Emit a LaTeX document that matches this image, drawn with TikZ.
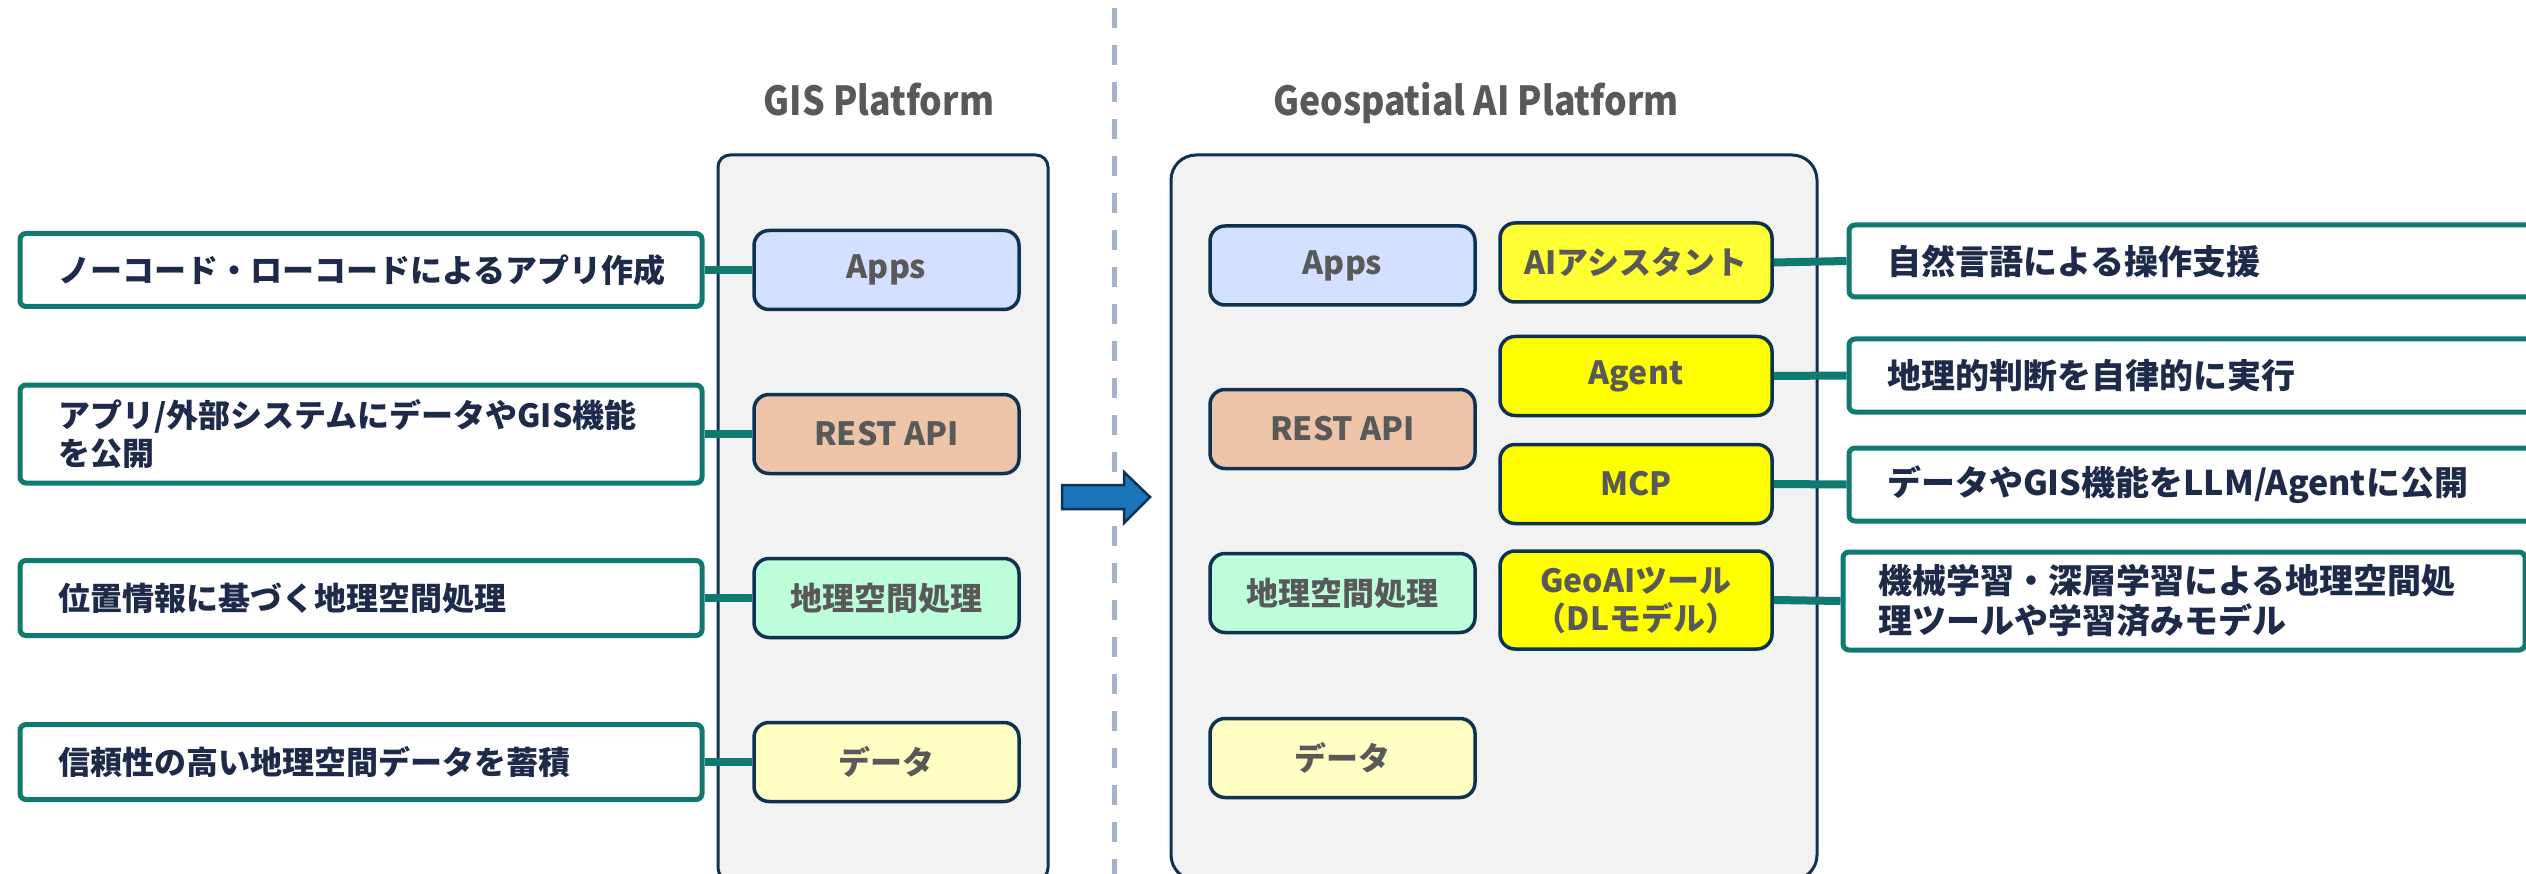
\documentclass[tikz,border=0pt]{standalone}
\usepackage{fontspec}
\usepackage{tikz}
\newfontfamily\jpfont{Noto Sans CJK JP}
\newfontfamily\titlefont{Noto Sans CJK JP}[FakeStretch=0.89]

\definecolor{tealline}{RGB}{16,122,112}
\definecolor{navyline}{RGB}{14,51,82}
\definecolor{panelgray}{RGB}{242,242,242}
\definecolor{appsblue}{RGB}{211,224,255}
\definecolor{restpeach}{RGB}{238,196,168}
\definecolor{procmint}{RGB}{188,255,218}
\definecolor{datacream}{RGB}{255,255,195}
\definecolor{aiyellow}{RGB}{255,255,0}
\definecolor{assistyellow}{RGB}{255,255,51}
\definecolor{labelgray}{RGB}{89,89,89}
\definecolor{descnavy}{RGB}{30,42,74}
\definecolor{dashgray}{RGB}{164,179,200}
\definecolor{shiftblue}{RGB}{26,117,187}

\tikzset{
  panel/.style={draw=navyline, line width=3pt, fill=panelgray, inner sep=0pt},
  layer/.style={draw=navyline, line width=3.5pt, rounded corners=15pt,
    minimum width=265pt, minimum height=79pt, inner sep=0pt, align=center,
    font=\jpfont\bfseries\fontsize{32}{38}\selectfont, text=labelgray},
  tool/.style={layer, minimum width=272pt},
  desc/.style={draw=tealline, line width=5pt, fill=white, rounded corners=6pt,
    inner xsep=38pt, inner ysep=0pt, align=left,
    font=\jpfont\bfseries\fontsize{34}{40}\selectfont, text=descnavy},
  smalldesc/.style={desc, font=\jpfont\bfseries\fontsize{32}{38}\selectfont},
  link/.style={draw=tealline, line width=8pt},
  ptitle/.style={font=\titlefont\bfseries\fontsize{40}{46}\selectfont, text=labelgray},
}

\begin{document}
\begin{tikzpicture}[x=1pt, y=-1pt]
    \useasboundingbox (0,0) rectangle (2526,874);
    \clip (0,0) rectangle (2526,874);

    \draw[dashgray, line width=5pt, dash pattern=on 20pt off 17pt] (1114,8) -- (1114,880);
    \draw[navyline, line width=2.5pt, fill=shiftblue]
      (1062,485) -- (1124,485) -- (1124,472) -- (1150,497) -- (1124,523) -- (1124,509) -- (1062,509) -- cycle;

    % GIS Platform
    \node[ptitle] (gistitle) at (879,100) {GIS Platform};
    \node[panel, rounded corners=12pt, minimum width=330pt, minimum height=725pt] (gis) at (883,517.5) {};
    \node[layer, fill=appsblue] (gapps) at (886.5,270) {Apps};
    \node[layer, fill=restpeach] (grest) at (886.5,434) {REST API};
    \node[layer, fill=procmint] (gproc) at (886.5,598) {地理空間処理};
    \node[layer, fill=datacream] (gdata) at (886.5,762) {データ};

    \node[smalldesc, text width=606pt, minimum height=73pt] (gdesc1) at (361,270) {ノーコード・ローコードによるアプリ作成};
    \node[smalldesc, text width=606pt, minimum height=98pt] (gdesc2) at (361,434) {アプリ/外部システムにデータやGIS機能\\を公開};
    \node[smalldesc, text width=606pt, minimum height=75pt] (gdesc3) at (361,598) {位置情報に基づく地理空間処理};
    \node[smalldesc, text width=606pt, minimum height=75pt] (gdesc4) at (361,762) {信頼性の高い地理空間データを蓄積};

    \draw[link] (gdesc1.east) -- (gapps.west);
    \draw[link] (gdesc2.east) -- (grest.west);
    \draw[link] (gdesc3.east) -- (gproc.west);
    \draw[link] (gdesc4.east) -- (gdata.west);

    % Geospatial AI Platform
    \node[ptitle] (aititle) at (1476,103) {Geospatial AI Platform};
    \node[panel, rounded corners=25pt, minimum width=646pt, minimum height=725pt] (geoai) at (1494,517.5) {};
    \node[layer, fill=appsblue] (aapps) at (1342.5,265.5) {Apps};
    \node[layer, fill=restpeach] (arest) at (1342.5,429) {REST API};
    \node[layer, fill=procmint] (aproc) at (1342.5,593) {地理空間処理};
    \node[layer, fill=datacream] (adata) at (1342.5,758) {データ};

    \node[tool, fill=assistyellow] (assist) at (1636,262.5) {AIアシスタント};
    \node[tool, fill=aiyellow] (agent) at (1636,376) {Agent};
    \node[tool, fill=aiyellow] (mcp) at (1636,484) {MCP};
    \node[tool, fill=aiyellow, minimum height=98pt] (geotool) at (1636,600) {GeoAIツール\\（DLモデル）};

    \node[desc, text width=633pt, minimum height=72pt] (adesc1) at (2203.5,261) {自然言語による操作支援};
    \node[desc, text width=633pt, minimum height=73pt] (adesc2) at (2203.5,375.5) {地理的判断を自律的に実行};
    \node[desc, text width=633pt, minimum height=73pt] (adesc3) at (2203.5,484.5) {データやGIS機能をLLM/Agentに公開};
    \node[desc, inner xsep=35pt, text width=612pt, minimum height=98pt] (adesc4) at (2184,601) {機械学習・深層学習による地理空間処\\理ツールや学習済みモデル};

    \draw[link] (assist.east) -- (adesc1.west);
    \draw[link] (agent.east) -- (adesc2.west);
    \draw[link] (mcp.east) -- (adesc3.west);
    \draw[link] (geotool.east) -- (adesc4.west);
\end{tikzpicture}
\end{document}
